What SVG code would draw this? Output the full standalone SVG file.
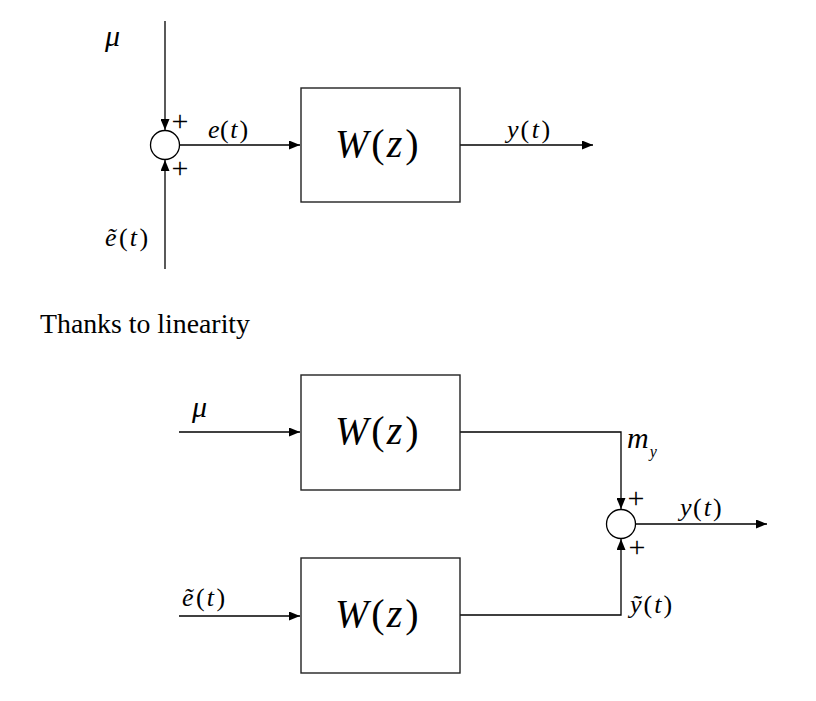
<svg xmlns="http://www.w3.org/2000/svg" width="816" height="701" viewBox="0 0 816 701">
<defs>
<marker id="ah" markerUnits="userSpaceOnUse" markerWidth="11" markerHeight="9" refX="11" refY="4.5" orient="auto">
<path d="M0,0 L11,4.5 L0,9 Z" fill="#000"/>
</marker>
<style>
.ln{stroke:#000;stroke-width:1.3;fill:none}
.bx{stroke:#222;stroke-width:1.4;fill:#fff}
.sum{stroke:#000;stroke-width:1.3;fill:#fff}
</style>
</defs>
<rect width="816" height="701" fill="#fff"/>

<g id="connectors">
<line class="ln" x1="165" y1="21" x2="165" y2="130" marker-end="url(#ah)"/>
<line class="ln" x1="165" y1="269" x2="165" y2="160" marker-end="url(#ah)"/>
<line class="ln" x1="180" y1="145" x2="300" y2="145" marker-end="url(#ah)"/>
<line class="ln" x1="460" y1="145" x2="593" y2="145" marker-end="url(#ah)"/>
<line class="ln" x1="179" y1="432" x2="300" y2="432" marker-end="url(#ah)"/>
<line class="ln" x1="179" y1="616" x2="300" y2="616" marker-end="url(#ah)"/>
<polyline class="ln" points="460,432 621,432 621,509" marker-end="url(#ah)"/>
<polyline class="ln" points="460,615 621,615 621,539" marker-end="url(#ah)"/>
<line class="ln" x1="636" y1="524" x2="767" y2="524" marker-end="url(#ah)"/>
</g>

<g id="sum1">
<circle class="sum" cx="165" cy="145" r="14.5"/>
<text x="171.5" y="130.5" font-family="'Liberation Serif', serif" font-size="30">+</text>
<text x="171.5" y="177.5" font-family="'Liberation Serif', serif" font-size="30">+</text>
</g>

<g id="box1">
<rect class="bx" x="301" y="88" width="159" height="114"/>
<text x="335" y="157" font-family="'Liberation Serif', serif" font-size="40"><tspan font-family="'Liberation Serif', serif" font-style="italic">W</tspan><tspan font-family="'Liberation Serif', serif" dx="3">(</tspan><tspan font-family="'Liberation Serif', serif" font-style="italic" dx="2">z</tspan><tspan font-family="'Liberation Serif', serif" dx="3">)</tspan></text>
</g>

<g id="labels-top">
<text x="105" y="46" font-family="'Liberation Serif', serif" font-size="30" font-style="italic">μ</text>
<text x="208" y="138" font-family="'Liberation Serif', serif" font-size="26"><tspan font-family="'Liberation Serif', serif" font-style="italic">e</tspan><tspan font-family="'Liberation Serif', serif" dx="0.5">(</tspan><tspan font-family="'Liberation Serif', serif" font-style="italic" dx="1.5">t</tspan><tspan font-family="'Liberation Serif', serif" dx="2">)</tspan></text>
<text x="105" y="246" font-family="'Liberation Serif', serif" font-size="26"><tspan font-family="'Liberation Serif', serif" font-style="italic">ẽ</tspan><tspan font-family="'Liberation Serif', serif" dx="2.5">(</tspan><tspan font-family="'Liberation Serif', serif" font-style="italic" dx="2">t</tspan><tspan font-family="'Liberation Serif', serif" dx="2.5">)</tspan></text>
<text x="507" y="138" font-family="'Liberation Serif', serif" font-size="26"><tspan font-family="'Liberation Serif', serif" font-style="italic">y</tspan><tspan font-family="'Liberation Serif', serif" dx="2">(</tspan><tspan font-family="'Liberation Serif', serif" font-style="italic" dx="2.5">t</tspan><tspan font-family="'Liberation Serif', serif" dx="2.5">)</tspan></text>
</g>

<text id="caption" x="40" y="333" font-family="'Liberation Serif', serif" font-size="27.8">Thanks to linearity</text>

<g id="box2">
<rect class="bx" x="301" y="375" width="159" height="115"/>
<text x="335" y="444" font-family="'Liberation Serif', serif" font-size="40"><tspan font-family="'Liberation Serif', serif" font-style="italic">W</tspan><tspan font-family="'Liberation Serif', serif" dx="3">(</tspan><tspan font-family="'Liberation Serif', serif" font-style="italic" dx="2">z</tspan><tspan font-family="'Liberation Serif', serif" dx="3">)</tspan></text>
</g>

<g id="box3">
<rect class="bx" x="301" y="558" width="159" height="115"/>
<text x="335" y="627" font-family="'Liberation Serif', serif" font-size="40"><tspan font-family="'Liberation Serif', serif" font-style="italic">W</tspan><tspan font-family="'Liberation Serif', serif" dx="3">(</tspan><tspan font-family="'Liberation Serif', serif" font-style="italic" dx="2">z</tspan><tspan font-family="'Liberation Serif', serif" dx="3">)</tspan></text>
</g>

<g id="sum2">
<circle class="sum" cx="621" cy="524" r="14.5"/>
<text x="627.5" y="507.5" font-family="'Liberation Serif', serif" font-size="30">+</text>
<text x="628.5" y="556.5" font-family="'Liberation Serif', serif" font-size="30">+</text>
</g>

<g id="labels-bottom">
<text x="192" y="417" font-family="'Liberation Serif', serif" font-size="30" font-style="italic">μ</text>
<text x="182" y="606" font-family="'Liberation Serif', serif" font-size="26"><tspan font-family="'Liberation Serif', serif" font-style="italic">ẽ</tspan><tspan font-family="'Liberation Serif', serif" dx="2.5">(</tspan><tspan font-family="'Liberation Serif', serif" font-style="italic" dx="2">t</tspan><tspan font-family="'Liberation Serif', serif" dx="2.5">)</tspan></text>
<text x="627" y="448" font-family="'Liberation Serif', serif" font-size="30"><tspan font-family="'Liberation Serif', serif" font-style="italic">m</tspan><tspan font-family="'Liberation Serif', serif" font-style="italic" font-size="16" dy="9" dx="1">y</tspan></text>
<text x="680" y="516" font-family="'Liberation Serif', serif" font-size="26"><tspan font-family="'Liberation Serif', serif" font-style="italic">y</tspan><tspan font-family="'Liberation Serif', serif" dx="1.5">(</tspan><tspan font-family="'Liberation Serif', serif" font-style="italic" dx="2">t</tspan><tspan font-family="'Liberation Serif', serif" dx="2">)</tspan></text>
<text x="630" y="613" font-family="'Liberation Serif', serif" font-size="26"><tspan font-family="'Liberation Serif', serif" font-style="italic">ỹ</tspan><tspan font-family="'Liberation Serif', serif" dx="2">(</tspan><tspan font-family="'Liberation Serif', serif" font-style="italic" dx="2">t</tspan><tspan font-family="'Liberation Serif', serif" dx="2">)</tspan></text>
</g>
</svg>
